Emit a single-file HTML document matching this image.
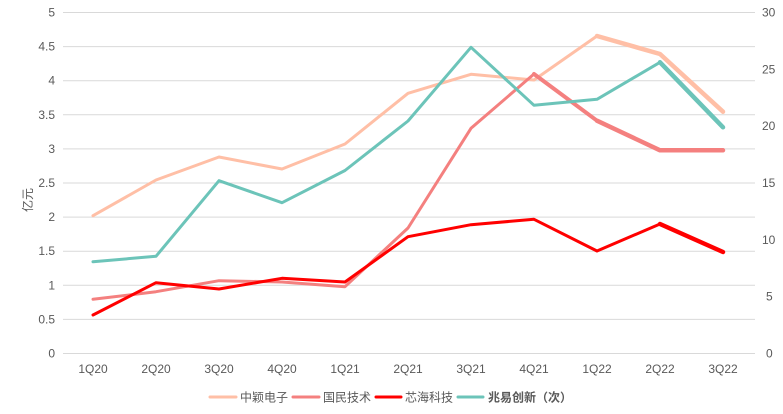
<!DOCTYPE html>
<html><head><meta charset="utf-8"><style>
html,body{margin:0;padding:0;background:#fff;}
svg{display:block;}
text{font-family:"Liberation Sans","Noto Sans CJK SC",sans-serif;fill:#595959;font-size:12px;}
</style></head><body>
<svg width="783" height="414" viewBox="0 0 783 414" xmlns="http://www.w3.org/2000/svg">
<g stroke="#d9d9d9" stroke-width="1">
<line x1="63" y1="12.5" x2="755" y2="12.5"/>
<line x1="63" y1="46.6" x2="755" y2="46.6"/>
<line x1="63" y1="80.7" x2="755" y2="80.7"/>
<line x1="63" y1="114.8" x2="755" y2="114.8"/>
<line x1="63" y1="148.9" x2="755" y2="148.9"/>
<line x1="63" y1="183" x2="755" y2="183"/>
<line x1="63" y1="217.1" x2="755" y2="217.1"/>
<line x1="63" y1="251.2" x2="755" y2="251.2"/>
<line x1="63" y1="285.3" x2="755" y2="285.3"/>
<line x1="63" y1="319.4" x2="755" y2="319.4"/>
<line x1="63" y1="353.5" x2="755" y2="353.5"/>
</g>
<g text-anchor="end">
<text x="55" y="16.5">5</text>
<text x="55" y="50.6">4.5</text>
<text x="55" y="84.7">4</text>
<text x="55" y="118.8">3.5</text>
<text x="55" y="152.9">3</text>
<text x="55" y="187">2.5</text>
<text x="55" y="221.1">2</text>
<text x="55" y="255.2">1.5</text>
<text x="55" y="289.3">1</text>
<text x="55" y="323.4">0.5</text>
<text x="55" y="357.5">0</text>
</g>
<g text-anchor="start">
<text x="762" y="16.5">30</text>
<text x="762" y="73.3">25</text>
<text x="762" y="130.2">20</text>
<text x="762" y="187">15</text>
<text x="762" y="243.9">10</text>
<text x="766" y="300.7">5</text>
<text x="766" y="357.5">0</text>
</g>
<text transform="translate(32,200) rotate(-90)" text-anchor="middle">亿元</text>
<g text-anchor="middle">
<text x="93" y="373">1Q20</text>
<text x="156" y="373">2Q20</text>
<text x="219" y="373">3Q20</text>
<text x="282" y="373">4Q20</text>
<text x="345" y="373">1Q21</text>
<text x="408" y="373">2Q21</text>
<text x="471" y="373">3Q21</text>
<text x="534" y="373">4Q21</text>
<text x="597" y="373">1Q22</text>
<text x="660" y="373">2Q22</text>
<text x="723" y="373">3Q22</text>
</g>
<g fill="none" stroke-linejoin="round" stroke-linecap="round">
<!-- 中颖电子 -->
<polyline stroke="#ffbfa6" stroke-width="3" points="93,215.7 156,180 219,157 282,169 345,144 408,93.3 471,74.3 534,80 597,36"/>
<polyline stroke="#ffbfa6" stroke-width="4.5" points="597,36 660,54 723,111.7"/>
<!-- 国民技术 -->
<polyline stroke="#f4807f" stroke-width="3" points="93,299.3 156,291.7 219,280.7 282,282 345,286.7 408,228 471,128.3 534,74"/>
<polyline stroke="#f4807f" stroke-width="4" points="534,74 597,120.7"/>
<polyline stroke="#f4807f" stroke-width="4.5" points="597,120.7 660,150.3 723,150.3"/>
<!-- 芯海科技 -->
<polyline stroke="#ff0000" stroke-width="3" points="93,315 156,282.7 219,289 282,278.3 345,282 408,236.7 471,224.7 534,219.3 597,251 660,224"/>
<polyline stroke="#ff0000" stroke-width="4.5" points="660,224 723,252"/>
<!-- 兆易创新 -->
<polyline stroke="#6cc4b9" stroke-width="3" points="93,261.7 156,256.3 219,180.7 282,202.7 345,170.5 408,121 471,47.3 534,105.3 597,99.3 660,62.3"/>
<polyline stroke="#6cc4b9" stroke-width="4.5" points="660,62.3 723,127.3"/>
</g>
<g stroke-width="3" stroke-linecap="round">
<line x1="210" y1="397" x2="236" y2="397" stroke="#ffbfa6"/>
<line x1="293" y1="397" x2="319" y2="397" stroke="#f4807f"/>
<line x1="376" y1="397" x2="401" y2="397" stroke="#ff0000"/>
<line x1="458" y1="397" x2="483" y2="397" stroke="#6cc4b9"/>
</g>
<text x="240" y="401.5">中颖电子</text>
<text x="323" y="401.5">国民技术</text>
<text x="405" y="401.5">芯海科技</text>
<text x="488" y="401.5" font-weight="bold">兆易创新（次）</text>
</svg>
</body></html>
